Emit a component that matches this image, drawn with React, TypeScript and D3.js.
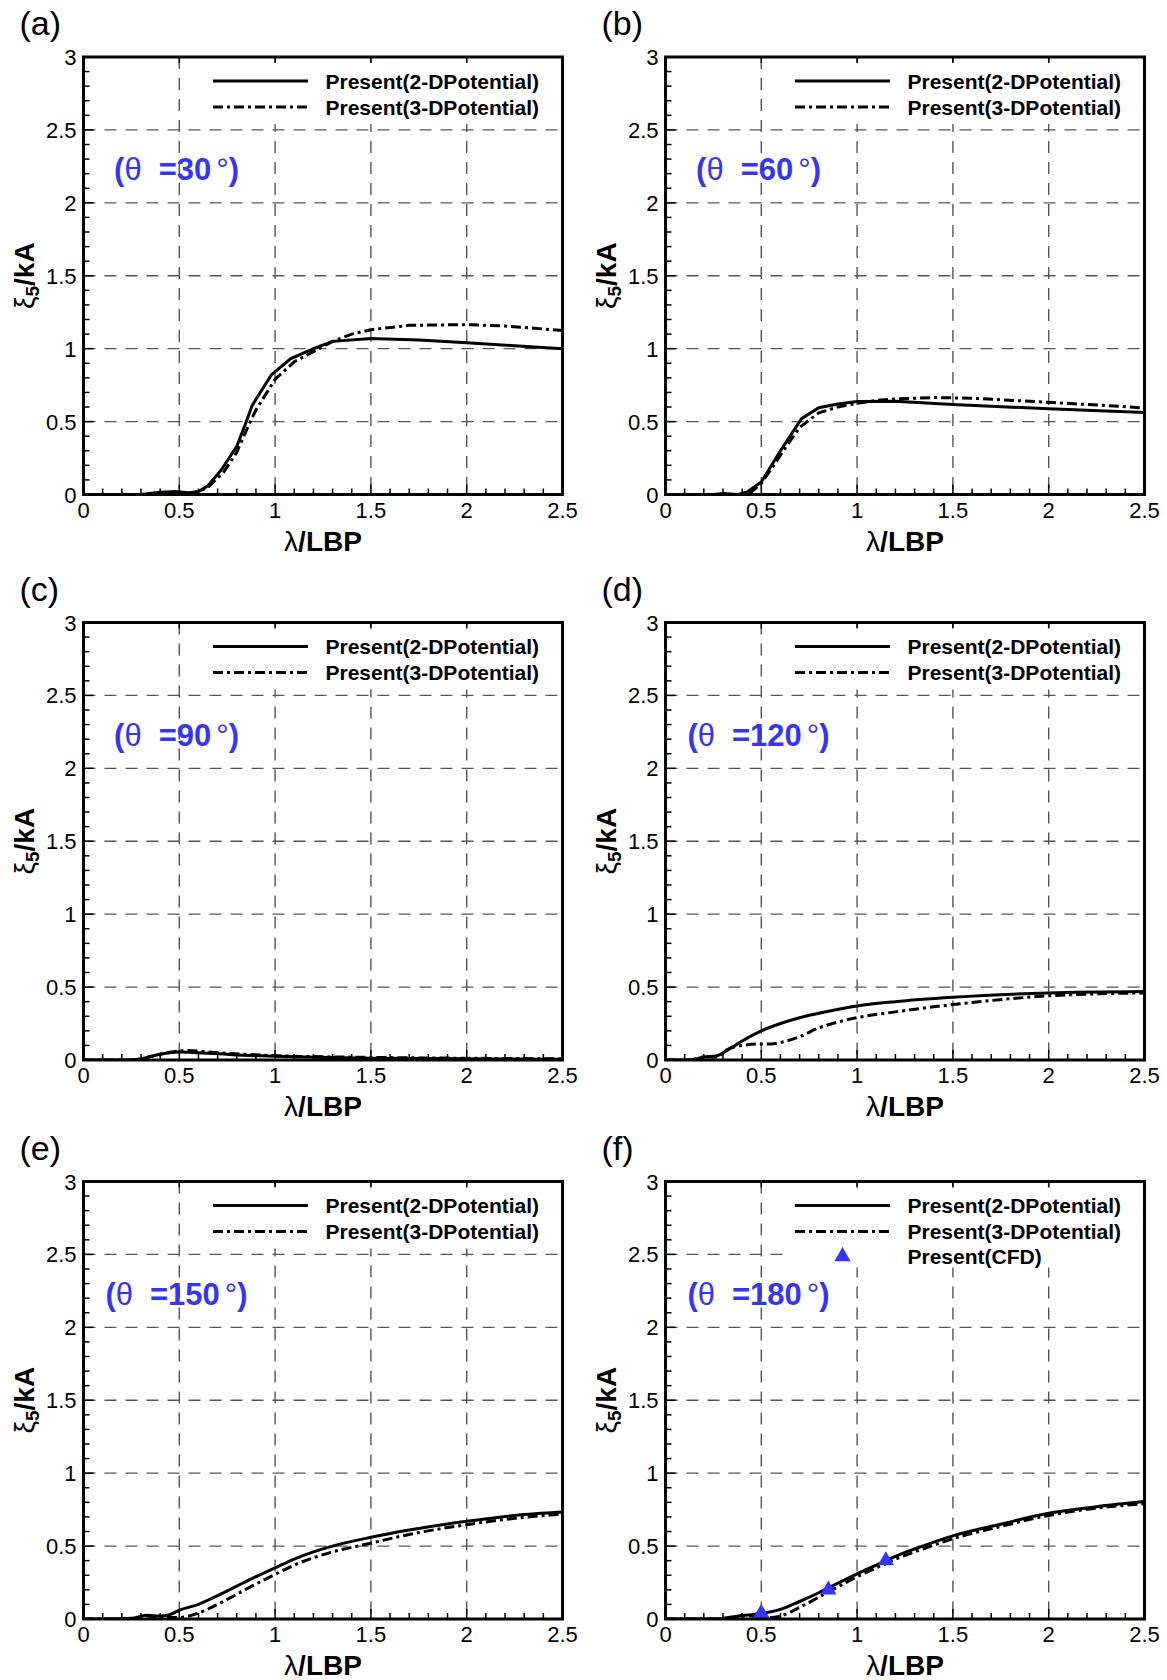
import React from 'react';
import * as d3 from 'd3';

type Pt = [number, number];

const xMajor = [0, 0.5, 1, 1.5, 2, 2.5];
const yMajor = [0, 0.5, 1, 1.5, 2, 2.5, 3];
const xTickLabels = ['0', '0.5', '1', '1.5', '2', '2.5'];
const yTickLabels = ['0', '0.5', '1', '1.5', '2', '2.5', '3'];
const panelLetters = ['(a)', '(b)', '(c)', '(d)', '(e)', '(f)'];
const angles = ['30', '60', '90', '120', '150', '180'];
const legendNames = ['Present(2-DPotential)', 'Present(3-DPotential)', 'Present(CFD)'];

const a2D: Pt[] = [[0, 0], [0.3, 0], [0.4, 0.015], [0.48, 0.02], [0.55, 0.012], [0.6, 0.02], [0.65, 0.06], [0.72, 0.17], [0.8, 0.33], [0.85, 0.5], [0.88, 0.61], [0.98, 0.82], [1.08, 0.93], [1.2, 1.0], [1.3, 1.05], [1.5, 1.07], [1.75, 1.06], [2.0, 1.04], [2.25, 1.02], [2.5, 1.0]];
const a3D: Pt[] = [[0, 0], [0.55, 0], [0.6, 0.02], [0.65, 0.05], [0.73, 0.15], [0.8, 0.29], [0.86, 0.47], [0.9, 0.58], [1.0, 0.79], [1.1, 0.91], [1.2, 0.98], [1.3, 1.05], [1.4, 1.1], [1.5, 1.13], [1.7, 1.16], [2.0, 1.165], [2.2, 1.155], [2.5, 1.125]];
const b2D: Pt[] = [[0, 0], [0.25, 0], [0.3, 0.007], [0.38, 0], [0.43, 0.02], [0.5, 0.086], [0.6, 0.3], [0.71, 0.52], [0.8, 0.595], [0.9, 0.62], [1.0, 0.637], [1.2, 0.64], [1.5, 0.617], [2.0, 0.588], [2.5, 0.563]];
const b3D: Pt[] = [[0, 0], [0.4, 0], [0.45, 0.02], [0.5, 0.075], [0.6, 0.27], [0.7, 0.46], [0.8, 0.56], [0.9, 0.6], [1.0, 0.625], [1.1, 0.645], [1.2, 0.655], [1.4, 0.665], [1.6, 0.66], [2.0, 0.632], [2.3, 0.61], [2.5, 0.593]];
const c2D: Pt[] = [[0, 0], [0.25, 0], [0.3, 0.008], [0.4, 0.04], [0.5, 0.055], [0.6, 0.05], [0.8, 0.035], [1.0, 0.025], [1.5, 0.012], [2.0, 0.008], [2.5, 0.005]];
const c3D: Pt[] = [[0, 0], [0.25, 0], [0.3, 0.008], [0.4, 0.04], [0.5, 0.062], [0.55, 0.065], [0.7, 0.05], [1.0, 0.03], [1.5, 0.018], [2.0, 0.012], [2.5, 0.008]];
const d2D: Pt[] = [[0, 0], [0.13, 0], [0.2, 0.02], [0.27, 0.03], [0.3, 0.05], [0.35, 0.09], [0.4, 0.13], [0.5, 0.2], [0.6, 0.25], [0.7, 0.29], [0.8, 0.32], [1.0, 0.37], [1.2, 0.4], [1.5, 0.43], [2.0, 0.46], [2.5, 0.47]];
const d3D: Pt[] = [[0, 0], [0.13, 0], [0.2, 0.02], [0.27, 0.02], [0.32, 0.07], [0.4, 0.1], [0.5, 0.11], [0.55, 0.11], [0.6, 0.12], [0.7, 0.16], [0.8, 0.22], [0.9, 0.26], [1.0, 0.29], [1.2, 0.33], [1.5, 0.38], [2.0, 0.44], [2.5, 0.46]];
const e2D: Pt[] = [[0, 0], [0.15, 0], [0.25, 0.005], [0.33, 0.025], [0.4, 0.02], [0.45, 0.03], [0.5, 0.06], [0.6, 0.1], [0.7, 0.16], [0.8, 0.225], [0.9, 0.29], [1.0, 0.35], [1.1, 0.41], [1.2, 0.46], [1.3, 0.5], [1.5, 0.56], [1.7, 0.61], [2.0, 0.67], [2.25, 0.71], [2.5, 0.733]];
const e3D: Pt[] = [[0, 0], [0.25, 0], [0.33, 0.02], [0.4, 0.01], [0.5, 0.01], [0.55, 0.02], [0.6, 0.04], [0.7, 0.1], [0.8, 0.17], [0.9, 0.24], [1.0, 0.306], [1.1, 0.37], [1.2, 0.42], [1.3, 0.46], [1.5, 0.52], [1.7, 0.58], [2.0, 0.647], [2.25, 0.69], [2.5, 0.72]];
const f2D: Pt[] = [[0, 0], [0.25, 0], [0.3, 0.005], [0.38, 0.02], [0.45, 0.03], [0.5, 0.037], [0.6, 0.066], [0.7, 0.12], [0.8, 0.18], [0.9, 0.246], [1.0, 0.31], [1.1, 0.37], [1.2, 0.43], [1.3, 0.48], [1.5, 0.57], [1.75, 0.65], [2.0, 0.725], [2.25, 0.77], [2.5, 0.805]];
const f3D: Pt[] = [[0, 0], [0.35, 0], [0.4, 0.02], [0.5, 0.02], [0.55, 0.01], [0.6, 0.02], [0.7, 0.08], [0.8, 0.15], [0.9, 0.22], [1.0, 0.29], [1.1, 0.35], [1.2, 0.41], [1.3, 0.46], [1.5, 0.55], [1.75, 0.635], [2.0, 0.71], [2.25, 0.76], [2.5, 0.79]];
const fCFD: Pt[] = [[0.5, 0.04], [0.85, 0.2], [1.15, 0.4]];

const series2D = [a2D, b2D, c2D, d2D, e2D, f2D];
const series3D = [a3D, b3D, c3D, d3D, e3D, f3D];
const seriesCFD: (Pt[] | null)[] = [null, null, null, null, null, fCFD];

const COL_X = [83.5, 665.5];
const ROW_Y = [57, 622.5, 1181.5];
const W = 479;
const H = 437.5;
const BLUE = '#3535f5';
const FONT = "Arial, 'Liberation Sans', Helvetica, sans-serif";

function Panel({ idx }: { idx: number }) {
  const left = COL_X[idx % 2];
  const top = ROW_Y[Math.floor(idx / 2)];
  const x = d3.scaleLinear().domain([0, 2.5]).range([left, left + W]);
  const y = d3.scaleLinear().domain([0, 3]).range([top + H, top]);
  const line = d3.line<Pt>().x(d => x(d[0])).y(d => y(d[1]))
    .curve(idx < 2 ? d3.curveLinear : d3.curveMonotoneX);
  const minorX = d3.range(0, 26).map(i => i / 10).filter(v => Math.abs(v * 2 - Math.round(v * 2)) > 1e-6);
  const minorY = d3.range(0, 31).map(i => i / 10).filter(v => Math.abs(v * 2 - Math.round(v * 2)) > 1e-6);
  const cfd = seriesCFD[idx];
  const legendBottom = cfd ? 86 : 67;
  const legendLeft = cfd ? 122 : 112;
  const clipId = `clip-${idx}`;
  const tri = d3.symbol().type(d3.symbolTriangle).size(115)();
  const rows = [24, 50, 75];
  return (
    <g fontFamily={FONT}>
      <defs>
        <clipPath id={clipId}>
          <rect x={left} y={top} width={W} height={H} />
        </clipPath>
      </defs>
      {xMajor.slice(1, -1).map(v => (
        <line key={'gx' + v} x1={x(v)} x2={x(v)} y1={top} y2={top + H} stroke="#555" strokeWidth={1.4} strokeDasharray="12,9" />
      ))}
      {yMajor.slice(1, -1).map(v => (
        <line key={'gy' + v} x1={left} x2={left + W} y1={y(v)} y2={y(v)} stroke="#555" strokeWidth={1.4} strokeDasharray="12,9" />
      ))}
      <rect x={left + legendLeft} y={top + 5} width={W - legendLeft - 2} height={legendBottom - 5} fill="#fff" />
      {minorX.map(v => (
        <line key={'mx' + v} x1={x(v)} x2={x(v)} y1={top + H} y2={top + H - 6} stroke="#000" strokeWidth={1.5} />
      ))}
      {minorY.map(v => (
        <line key={'my' + v} x1={left} x2={left + 6} y1={y(v)} y2={y(v)} stroke="#000" strokeWidth={1.5} />
      ))}
      {xMajor.map(v => (
        <g key={'Mx' + v}>
          <line x1={x(v)} x2={x(v)} y1={top + H} y2={top + H - 10} stroke="#000" strokeWidth={1.5} />
          <line x1={x(v)} x2={x(v)} y1={top} y2={top + 6} stroke="#000" strokeWidth={1.5} />
        </g>
      ))}
      {yMajor.map(v => (
        <line key={'My' + v} x1={left} x2={left + 10} y1={y(v)} y2={y(v)} stroke="#000" strokeWidth={1.5} />
      ))}
      <g clipPath={`url(#${clipId})`}>
        <path d={line(series3D[idx]) || ''} fill="none" stroke="#000" strokeWidth={3} strokeDasharray="10,4,3,4" />
        <path d={line(series2D[idx]) || ''} fill="none" stroke="#000" strokeWidth={3} />
      </g>
      {cfd && cfd.map((d, i) => (
        <path key={'cfd' + i} d={tri || ''} transform={`translate(${x(d[0])},${y(d[1])})`} fill={BLUE} />
      ))}
      <rect x={left} y={top} width={W} height={H} fill="none" stroke="#000" strokeWidth={3} />
      {xMajor.map((v, i) => (
        <text key={'xl' + v} x={x(v)} y={top + H + 23} textAnchor="middle" fontSize={22} fill="#000">{xTickLabels[i]}</text>
      ))}
      {yMajor.map((v, i) => (
        <text key={'yl' + v} x={left - 7} y={y(v) + 8} textAnchor="end" fontSize={22} fill="#000">{yTickLabels[i]}</text>
      ))}
      <text x={left + W / 2} y={top + H + 56} textAnchor="middle" fontSize={28} fontWeight="bold" fill="#000">
        <tspan fontWeight="normal">λ</tspan>
        <tspan>/LBP</tspan>
      </text>
      <text transform={`translate(${left - 50},${top + H / 2}) rotate(-90)`} textAnchor="middle" fontSize={28} fontWeight="bold" fill="#000">
        <tspan fontWeight="normal">ξ</tspan>
        <tspan fontSize={19} dy={5}>5</tspan>
        <tspan dy={-5}>/kA</tspan>
      </text>
      <text x={left - 64} y={top - 22} fontSize={34} fill="#000">{panelLetters[idx]}</text>
      <text x={left + 93} y={top + 123} textAnchor="middle" fontSize={31} fontWeight="bold" fill={BLUE}>
        <tspan>(</tspan>
        <tspan fontWeight="normal">θ</tspan>
        <tspan dx={17}>={angles[idx]}</tspan>
        <tspan fontWeight="normal" dx={5}>°</tspan>
        <tspan>)</tspan>
      </text>
      <line x1={left + 129.5} x2={left + 224.5} y1={top + rows[0]} y2={top + rows[0]} stroke="#000" strokeWidth={3} />
      <text x={left + 242} y={top + rows[0] + 7.5} fontSize={21} fontWeight="bold" fill="#000">{legendNames[0]}</text>
      <line x1={left + 129.5} x2={left + 224.5} y1={top + rows[1]} y2={top + rows[1]} stroke="#000" strokeWidth={3} strokeDasharray="10,4,3,4" />
      <text x={left + 242} y={top + rows[1] + 7.5} fontSize={21} fontWeight="bold" fill="#000">{legendNames[1]}</text>
      {cfd && (
        <g>
          <path d={tri || ''} transform={`translate(${left + 177},${top + rows[2]})`} fill={BLUE} />
          <text x={left + 242} y={top + rows[2] + 7.5} fontSize={21} fontWeight="bold" fill="#000">{legendNames[2]}</text>
        </g>
      )}
    </g>
  );
}

export default function App() {
  return (
    <svg width={1167} height={1680} style={{ position: 'absolute', left: 0, top: 0, background: '#fff' }}>
      <rect x={0} y={0} width={1167} height={1680} fill="#fff" />
      {[0, 1, 2, 3, 4, 5].map(i => <Panel key={i} idx={i} />)}
    </svg>
  );
}
